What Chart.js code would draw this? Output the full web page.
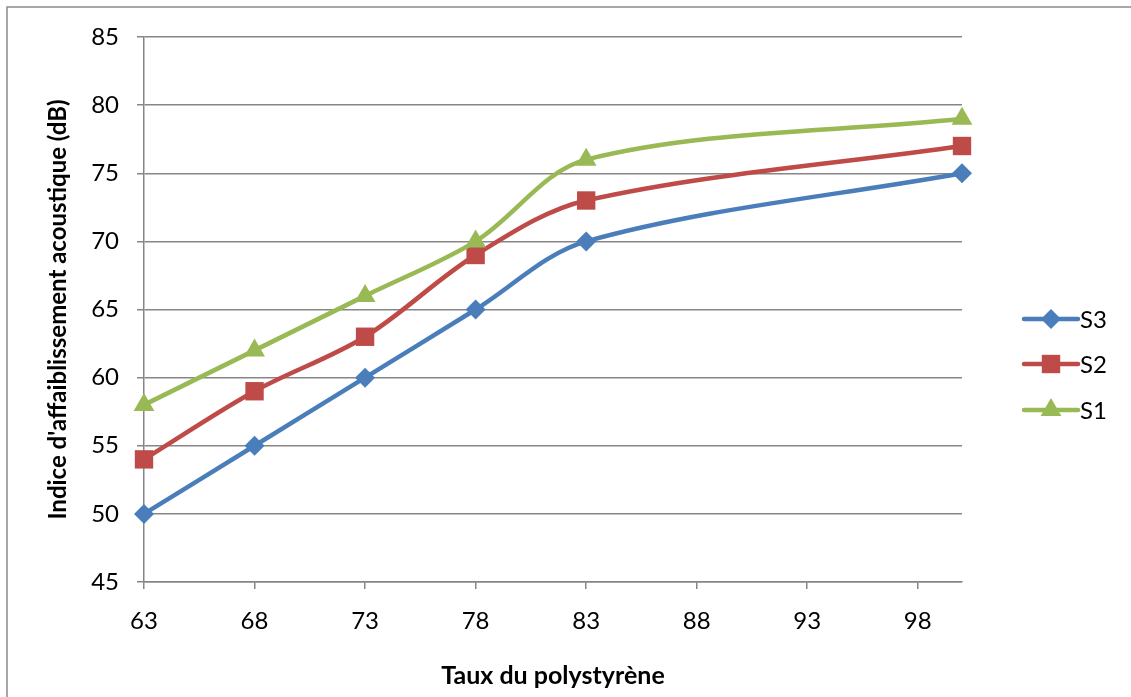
<!DOCTYPE html>
<html>
<head>
<meta charset="utf-8">
<script src="https://cdn.jsdelivr.net/npm/chart.js@4/dist/chart.umd.min.js"></script>
<style>
html,body{margin:0;padding:0;background:#fff;}
#wrap{width:1131px;height:697px;position:relative;}
</style>
</head>
<body>
<div id="wrap"><canvas id="c" width="1131" height="697"></canvas></div>
<script>
// ---- data ----
const xValues = [63, 68, 73, 78, 83, 100];
const s3Values = [50, 55, 60, 65, 70, 75];
const s2Values = [54, 59, 63, 69, 73, 77];
const s1Values = [58, 62, 66, 70, 76, 79];
const xTickValues = [63, 68, 73, 78, 83, 88, 93, 98];
const yTickValues = [45, 50, 55, 60, 65, 70, 75, 80, 85];
const seriesNames = ['S3', 'S2', 'S1'];
const xTitle = 'Taux du polystyrène';
const yTitle = "Indice d'affaiblissement acoustique (dB)";

const colors = ['#4A7EBB', '#BE4B48', '#98B954'];
const styles = ['rectRot', 'rect', 'triangle'];
const radii = [10, 13, 12];
const seriesValues = [s3Values, s2Values, s1Values];

const FONT = 'Lato, "Open Sans", sans-serif';
const GRID = '#868686';

const datasets = seriesNames.map((name, i) => ({
  label: name,
  data: xValues.map((x, j) => ({x: x, y: seriesValues[i][j]})),
  borderColor: colors[i],
  backgroundColor: colors[i],
  borderWidth: 4.5,
  pointStyle: styles[i],
  pointRadius: radii[i],
  pointHoverRadius: radii[i],
  pointBorderWidth: 0,
  pointBackgroundColor: colors[i],
  tension: 0.33,
  order: 3 - i,
  clip: false,
  fill: false
}));

const framePlugin = {
  id: 'frame',
  beforeDraw(chart) {
    const ctx = chart.ctx;
    ctx.save();
    ctx.fillStyle = '#fff';
    ctx.fillRect(0, 0, chart.width, chart.height);
    ctx.strokeStyle = '#8a8a8a';
    ctx.lineWidth = 1.5;
    ctx.strokeRect(7, 7, chart.width + 20, chart.height + 20);
    ctx.restore();
  }
};

const legendPlugin = {
  id: 'sideLegend',
  afterDraw(chart) {
    const ctx = chart.ctx;
    const x0 = 1024, x1 = 1078;
    const ys = [319, 364, 410];
    ctx.save();
    chart.data.datasets.forEach((ds, i) => {
      const y = ys[i];
      ctx.strokeStyle = ds.borderColor;
      ctx.lineWidth = 4.5;
      ctx.lineCap = 'round';
      ctx.beginPath();
      ctx.moveTo(x0, y);
      ctx.lineTo(x1, y);
      ctx.stroke();
      ctx.fillStyle = ds.backgroundColor;
      ctx.strokeStyle = ds.backgroundColor;
      Chart.helpers.drawPoint(ctx, {pointStyle: ds.pointStyle, radius: ds.pointRadius, borderWidth: 0, rotation: 0}, (x0 + x1) / 2, y);
      ctx.fillStyle = '#000';
      ctx.font = '24px ' + FONT;
      ctx.textBaseline = 'middle';
      ctx.textAlign = 'left';
      ctx.fillText(ds.label, x1 + 2, y + 1);
    });
    ctx.restore();
  }
};

new Chart(document.getElementById('c'), {
  type: 'line',
  data: {datasets: datasets},
  plugins: [framePlugin, legendPlugin],
  options: {
    responsive: false,
    animation: false,
    devicePixelRatio: 1,
    layout: {padding: {left: 0, top: 37, right: 169, bottom: 0}},
    plugins: {legend: {display: false}, tooltip: {enabled: false}},
    scales: {
      x: {
        type: 'linear',
        min: 63,
        max: 100,
        afterBuildTicks(scale) { scale.ticks = xTickValues.map(v => ({value: v})); },
        afterFit(scale) { scale.height = 115; },
        grid: {drawOnChartArea: false, drawTicks: true, tickLength: 7, color: GRID, lineWidth: 1.5},
        border: {display: true, color: GRID, width: 1.5},
        ticks: {color: '#000', font: {family: FONT, size: 24}, padding: 18, maxRotation: 0, autoSkip: false},
        title: {display: true, text: xTitle, color: '#000', font: {family: FONT, size: 25, weight: 'bold'}, padding: {top: 0, bottom: 6}}
      },
      y: {
        type: 'linear',
        min: 45,
        max: 85,
        afterBuildTicks(scale) { scale.ticks = yTickValues.map(v => ({value: v})); },
        afterFit(scale) { scale.width = 144; },
        grid: {drawOnChartArea: true, drawTicks: true, tickLength: 7, color: GRID, lineWidth: 1.5},
        border: {display: true, color: GRID, width: 1.5},
        ticks: {color: '#000', font: {family: FONT, size: 24}, padding: 18, autoSkip: false},
        title: {display: true, text: yTitle, color: '#000', font: {family: FONT, size: 24, weight: 'bold'}, padding: {top: 44, bottom: 0}}
      }
    }
  }
});
</script>
</body>
</html>
